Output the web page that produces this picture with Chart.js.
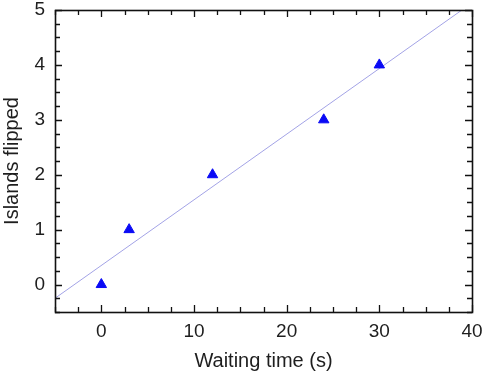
<!DOCTYPE html>
<html>
<head>
<meta charset="utf-8">
<script src="https://cdn.jsdelivr.net/npm/chart.js@4"></script>
<style>
  html, body { margin: 0; padding: 0; background: #fff; }
  #wrap { width: 485px; height: 375px; }
</style>
</head>
<body>
<div id="wrap"><canvas id="chart"></canvas></div>
<script>
// measured points
const waitTimes = [0, 3, 12, 24, 30];
const islandsFlipped = [0, 1, 2, 3, 4];
// fitted line at the plot edges
const fitX = [-5, 40];
const fitY = [-0.25, 5.13];

const xMin = -5, xMax = 40, xStep = 2.5, xLabelEvery = 10;
const yMin = -0.5, yMax = 5, yStep = 0.25, yLabelEvery = 1;

const textColor = '#1e1e1e';
const fontFamily = '"Liberation Sans", Arial, Helvetica, sans-serif';

function toPoints(xs, ys) {
    return xs.map((x, i) => ({ x: x, y: ys[i] }));
}

function isMultiple(v, m) {
    return Math.abs(v / m - Math.round(v / m)) < 1e-6;
}

// frame + inward ticks on all four sides
const frameTicks = {
    id: 'frameTicks',
    afterDraw(chart) {
        const ctx = chart.ctx;
        const a = chart.chartArea;
        const xs = chart.scales.x, ys = chart.scales.y;
        ctx.save();
        ctx.strokeStyle = '#111';
        ctx.lineWidth = 1.3;
        for (const t of xs.ticks) {
            const px = Math.round(xs.getPixelForValue(t.value)) + 0.5;
            const len = isMultiple(t.value, xLabelEvery) ? 7 : 5;
            ctx.beginPath();
            ctx.moveTo(px, a.bottom); ctx.lineTo(px, a.bottom - len);
            ctx.moveTo(px, a.top); ctx.lineTo(px, a.top + len);
            ctx.stroke();
        }
        for (const t of ys.ticks) {
            const py = Math.round(ys.getPixelForValue(t.value)) + 0.5;
            const len = isMultiple(t.value, yLabelEvery) ? 7 : 5;
            ctx.beginPath();
            ctx.moveTo(a.left, py); ctx.lineTo(a.left + len, py);
            ctx.moveTo(a.right, py); ctx.lineTo(a.right - len, py);
            ctx.stroke();
        }
        ctx.lineWidth = 1.6;
        ctx.strokeRect(Math.round(a.left) + 0.5, Math.round(a.top) + 0.5,
            Math.round(a.right - a.left), Math.round(a.bottom - a.top));
        ctx.restore();
    }
};

new Chart(document.getElementById('chart'), {
    type: 'scatter',
    data: {
        datasets: [
            {
                label: 'Fit',
                type: 'line',
                data: toPoints(fitX, fitY),
                borderColor: '#a3a3e6',
                borderWidth: 1,
                pointRadius: 0,
                fill: false,
                order: 2
            },
            {
                label: 'Islands flipped',
                data: toPoints(waitTimes, islandsFlipped),
                pointStyle: 'triangle',
                pointRadius: 6,
                backgroundColor: '#0a0af5',
                borderColor: '#0a0af5',
                borderWidth: 1,
                order: 1
            }
        ]
    },
    options: {
        responsive: true,
        maintainAspectRatio: false,
        animation: false,
        layout: { padding: { top: 10, right: 13, left: 0, bottom: 0 } },
        plugins: {
            legend: { display: false },
            tooltip: { enabled: false }
        },
        scales: {
            x: {
                type: 'linear',
                min: xMin,
                max: xMax,
                afterFit: s => { s.height = 63; s.paddingLeft = 0; s.paddingRight = 0; },
                grid: { drawOnChartArea: false, drawTicks: false },
                border: { display: false },
                ticks: {
                    stepSize: xStep,
                    autoSkip: false,
                    maxRotation: 0,
                    padding: 8,
                    color: textColor,
                    font: { family: fontFamily, size: 19 },
                    callback: v => isMultiple(v, xLabelEvery) ? v : ''
                },
                title: {
                    display: true,
                    text: 'Waiting time (s)',
                    color: textColor,
                    font: { family: fontFamily, size: 20 },
                    padding: { top: 0, bottom: 2 }
                }
            },
            y: {
                type: 'linear',
                min: yMin,
                max: yMax,
                afterFit: s => { s.width = 55; s.paddingTop = 0; s.paddingBottom = 0; },
                grid: { drawOnChartArea: false, drawTicks: false },
                border: { display: false },
                ticks: {
                    stepSize: yStep,
                    autoSkip: false,
                    padding: 10,
                    color: textColor,
                    font: { family: fontFamily, size: 19 },
                    callback: v => isMultiple(v, yLabelEvery) ? v : ''
                },
                title: {
                    display: true,
                    text: 'Islands flipped',
                    color: textColor,
                    font: { family: fontFamily, size: 20 },
                    padding: { top: 0, bottom: 0 }
                }
            }
        }
    },
    plugins: [frameTicks]
});
</script>
</body>
</html>
